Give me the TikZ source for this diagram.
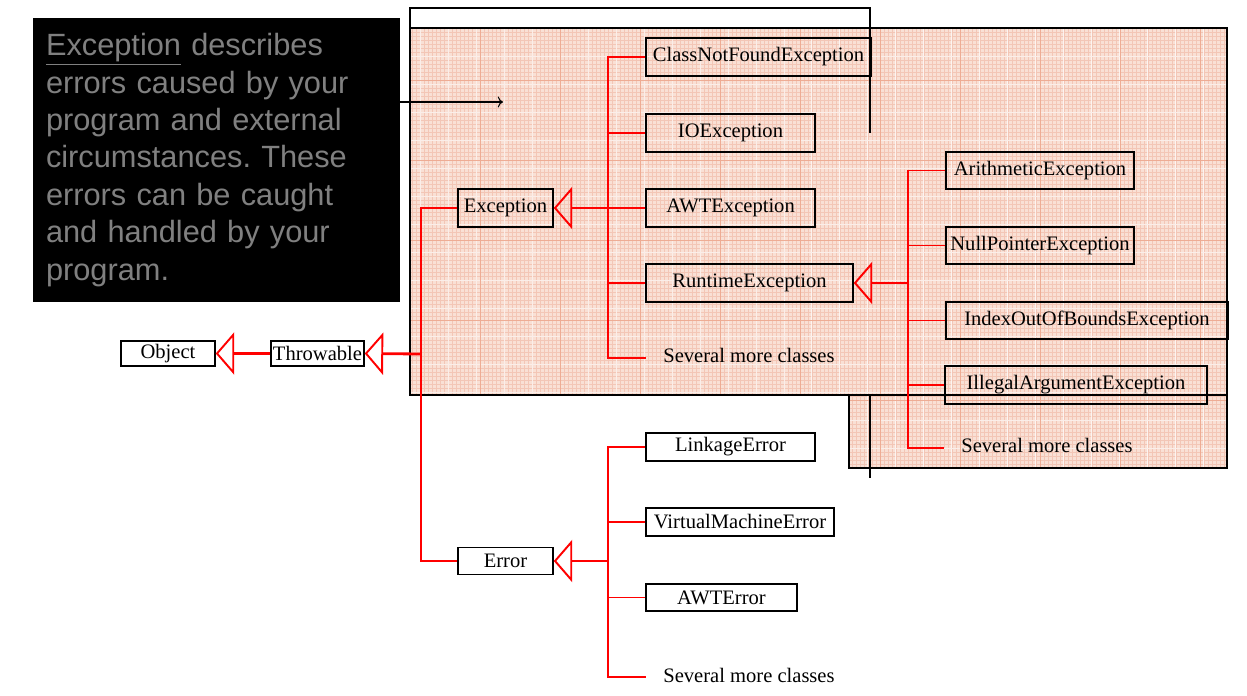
\documentclass[tikz,border=0pt]{standalone}
\usepackage{fontspec}
\setmainfont{Liberation Serif}
\newfontfamily\notefamily{Liberation Sans}
\usepackage{xcolor}
\usepackage{tikz}
\usetikzlibrary{arrows.meta,positioning}

\definecolor{gridbg}{RGB}{249,224,213}
\definecolor{gridline}{RGB}{243,198,182}
\definecolor{gridmajor}{RGB}{238,172,148}
\definecolor{notegray}{RGB}{128,128,128}

\tikzset{
    cls/.style={draw, line width=0.85pt, inner sep=0pt, font=\fontsize{11.7}{14}\selectfont},
    more/.style={anchor=west, inner sep=0pt, font=\fontsize{11.7}{14}\selectfont},
    branch/.style={red, line width=1.1pt},
    inh/.style={red, line width=1.6pt, -{Triangle[open, length=10.5pt, width=24pt, line width=1.1pt]}},
    frame/.style={black, line width=1.1pt}
}

\begin{document}
\begin{tikzpicture}[x=0.02cm, y=-0.02cm]
    \useasboundingbox (0,0) rectangle (1247,696);

    % shaded area
    \begin{scope}
        \clip (410,28) -- (1227,28) -- (1227,468) -- (849,468) -- (849,395) -- (410,395) -- cycle;
        \fill[gridbg] (410,28) rectangle (1227,468);
        \draw[gridline, line width=0.15pt, step=0.08cm] (410,28) grid (1227,468);
        \draw[white, line width=0.4pt, opacity=0.7, step=0.56cm] (410,28) grid (1227,468);
        \draw[gridmajor, line width=0.25pt, step=1.6cm] (410,28) grid (1227,468);
    \end{scope}

    \draw[frame] (410,28) rectangle (1227,395);
    \draw[frame] (849,395) rectangle (1227,468);
    \draw[frame] (410,28) -- (410,8) -- (870,8) -- (870,133);
    \draw[frame] (870,395) -- (870,478);

    % note
    \node[
        fill=black,
        minimum width=7.34cm,
        minimum height=5.68cm,
        inner sep=0pt,
        text width=6.82cm,
        align=left,
        text=notegray,
        font=\notefamily\fontsize{17.5}{21.3}\selectfont\frenchspacing
    ] (note) at (216.5,160) {\underline{Exception} describes\\ errors caused by your\\ program and external\\ circumstances. These\\ errors can be caught\\ and handled by your\\ program.};

    \coordinate (ptr) at (503,102);
    \draw[black, line width=0.6pt, -{To[length=3pt]}] (note.east |- ptr) -- (ptr);

    % classes
    \node[cls, minimum width=1.88cm, minimum height=0.5cm] (obj) at (168,353.5) {Object};
    \node[cls, minimum width=1.86cm, minimum height=0.5cm] (thr) at (317.5,353.5) {Throwable};
    \node[cls, minimum width=1.9cm, minimum height=0.76cm] (exc) at (505.5,208) {Exception};
    \node[cls, minimum width=1.9cm, minimum height=0.54cm] (err) at (505.5,561) {Error};

    \node[cls, minimum width=4.5cm, minimum height=0.76cm] (cnf) at (758.5,57) {ClassNotFoundException};
    \node[cls, minimum width=3.38cm, minimum height=0.76cm] (ioe) at (730.5,133) {IOException};
    \node[cls, minimum width=3.38cm, minimum height=0.76cm] (awte) at (730.5,208) {AWTException};
    \node[cls, minimum width=4.14cm, minimum height=0.76cm] (rte) at (749.5,283) {RuntimeException};
    \node[more] (more1) at (663,355) {Several more classes};

    \node[cls, minimum width=3.76cm, minimum height=0.74cm] (arith) at (1040,170.5) {ArithmeticException};
    \node[cls, minimum width=3.76cm, minimum height=0.74cm] (npe) at (1040,245.5) {NullPointerException};
    \node[cls, minimum width=5.64cm, minimum height=0.74cm] (ioobe) at (1087,320.5) {IndexOutOfBoundsException};
    \node[cls, minimum width=5.24cm, minimum height=0.76cm] (iae) at (1076,385) {IllegalArgumentException};
    \node[more] (more2) at (961,445) {Several more classes};

    \node[cls, minimum width=3.38cm, minimum height=0.56cm] (link) at (730.5,447) {LinkageError};
    \node[cls, minimum width=3.76cm, minimum height=0.56cm] (vme) at (740,522) {VirtualMachineError};
    \node[cls, minimum width=3.02cm, minimum height=0.54cm] (awterr) at (721.5,597.5) {AWTError};
    \node[more] (more3) at (663,675) {Several more classes};

    % joins
    \coordinate (tj) at (421,354);
    \coordinate (ej) at (608,208);
    \coordinate (rj) at (908,283);
    \coordinate (erj) at (608,561);
    \coordinate (m1) at (646,358);
    \coordinate (m2) at (944,448);
    \coordinate (m3) at (646,677);

    % Exception subclasses
    \draw[branch] (cnf.west) -| (ej) |- (m1);
    \draw[branch] (ioe.west) -- (ioe.west -| ej);
    \draw[branch] (awte.west) -- (ej);
    \draw[branch] (rte.west) -- (rte.west -| ej);
    \draw[inh] (ej) -- (exc.east);

    % RuntimeException subclasses
    \draw[branch] (arith.west) -| (rj) |- (m2);
    \draw[branch] (npe.west) -- (npe.west -| rj);
    \draw[branch] (ioobe.west) -- (ioobe.west -| rj);
    \draw[branch] (iae.west) -- (iae.west -| rj);
    \draw[inh] (rj) -- (rte.east);

    % Error subclasses
    \draw[branch] (link.west) -| (erj) |- (m3);
    \draw[branch] (vme.west) -- (vme.west -| erj);
    \draw[branch] (awterr.west) -- (awterr.west -| erj);
    \draw[inh] (erj) -- (err.east);

    % Throwable
    \draw[branch] (exc.west) -| (tj) |- (err.west);
    \draw[inh] (tj) -- (thr.east);
    \draw[inh] (thr.west) -- (obj.east);

\end{tikzpicture}
\end{document}
